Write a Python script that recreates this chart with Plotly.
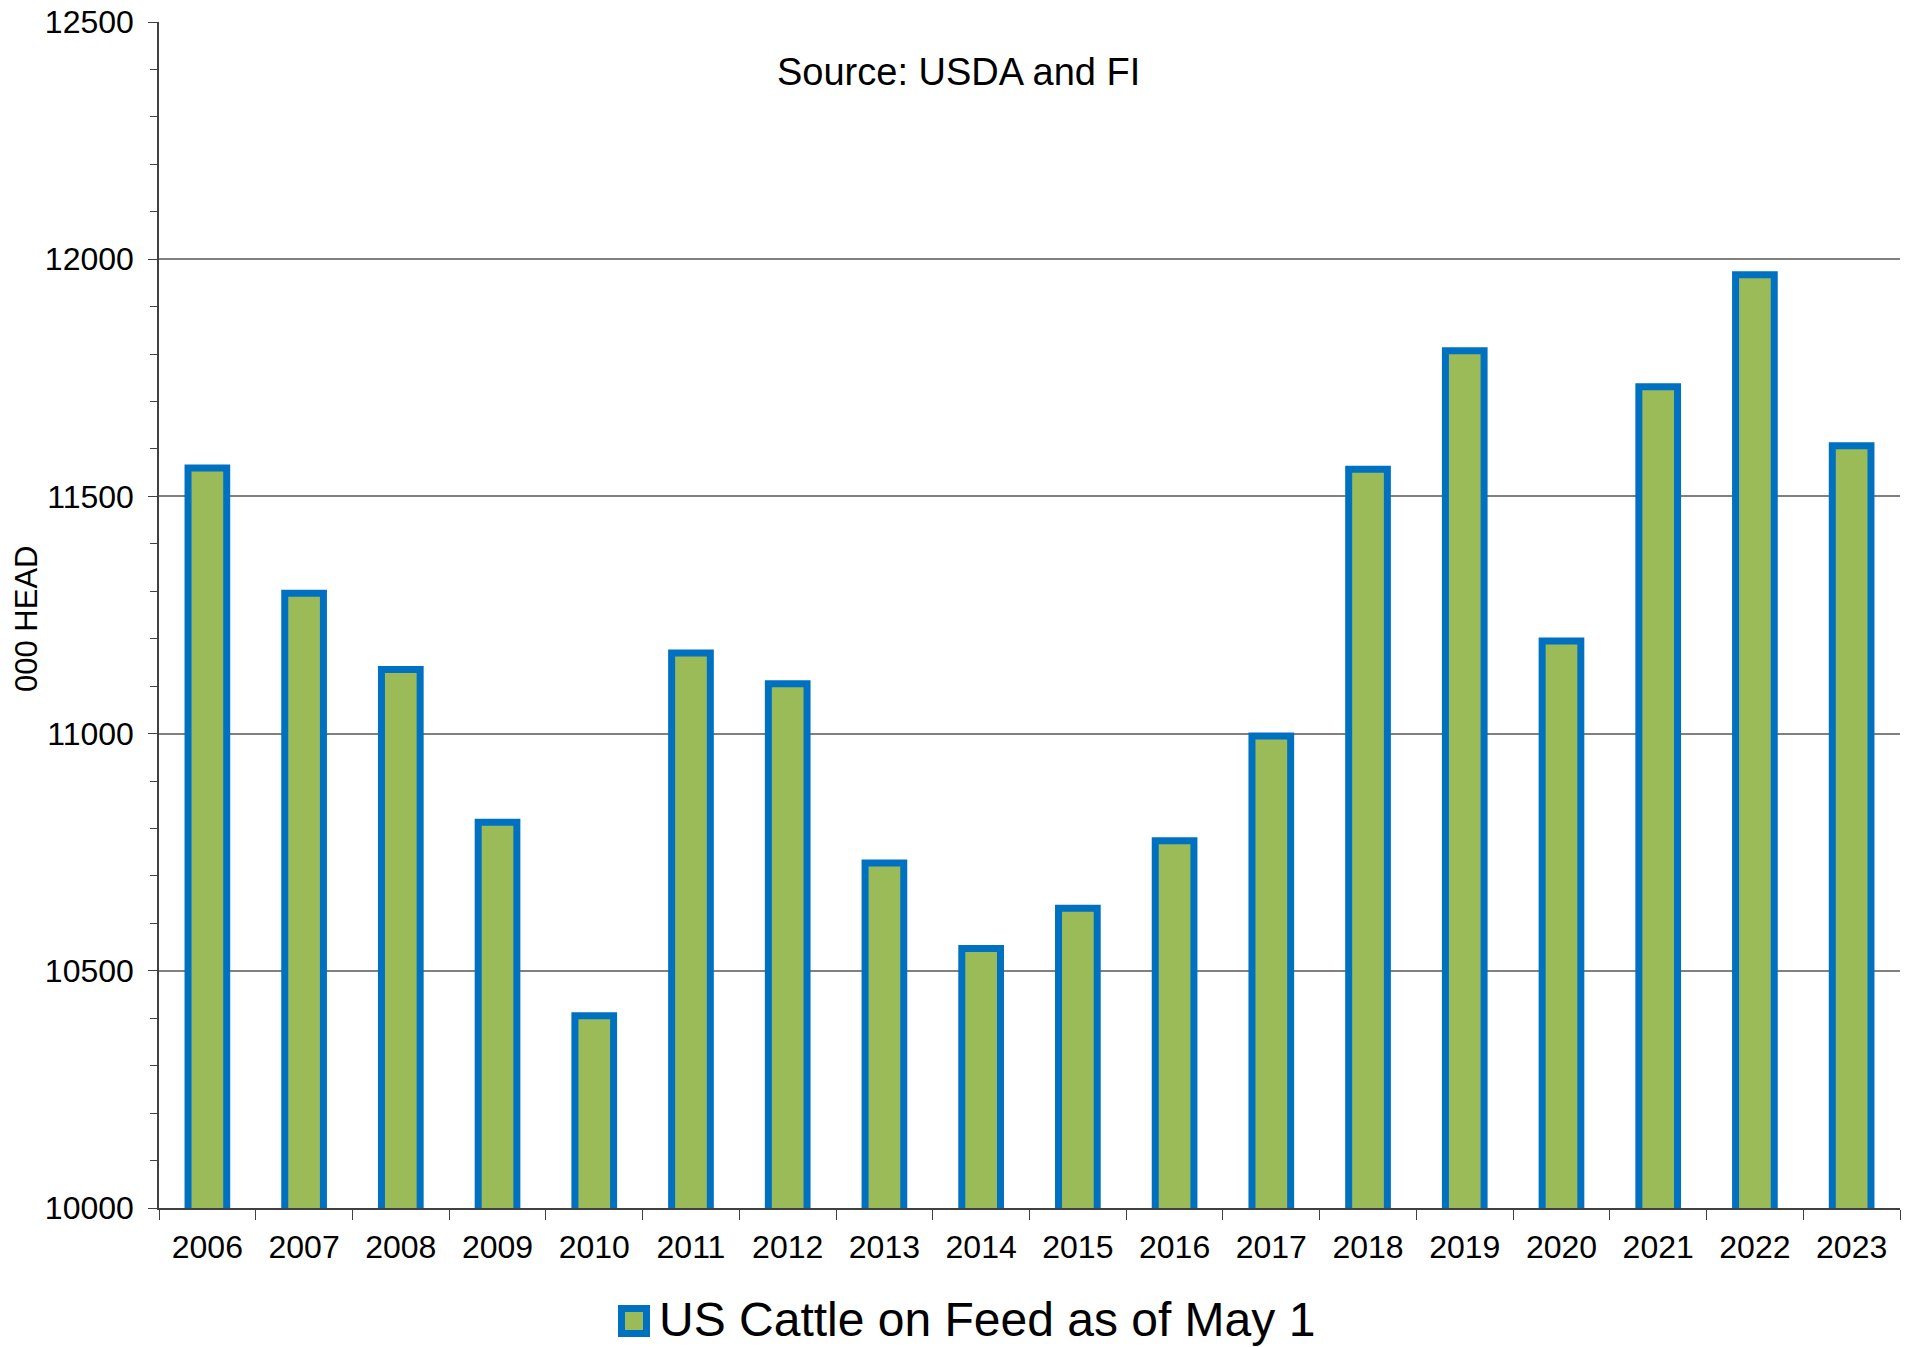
import plotly.graph_objects as go

# US cattle on feed as of May 1, thousand head
years = ["2006", "2007", "2008", "2009", "2010", "2011", "2012", "2013", "2014",
         "2015", "2016", "2017", "2018", "2019", "2020", "2021", "2022", "2023"]
cattle_on_feed = [11560, 11296, 11135, 10813, 10405, 11170, 11105, 10727, 10547,
                  10632, 10774, 10995, 11557, 11807, 11195, 11731, 11967, 11607]

series_name = "US Cattle on Feed as of May 1"
source_text = "Source: USDA and FI"
y_title = "000 HEAD"
y_ticks = [10000, 10500, 11000, 11500, 12000, 12500]

FILL = "#9BBB59"
EDGE = "#0070C0"
FONT = "Liberation Sans, Arial, Helvetica, sans-serif"

W, H = 1917, 1347
ML, MR, MT, MB = 159, 17, 22, 139
PW, PH = W - ML - MR, H - MT - MB


def px_to_paper(x, y):
    return (x - ML) / PW, (H - MB - y) / PH


fig = go.Figure()
fig.add_trace(go.Bar(
    x=years,
    y=cattle_on_feed,
    base=0,
    width=0.4,
    marker=dict(color=FILL, line=dict(color=EDGE, width=7)),
    name=series_name,
    showlegend=False,
))

fig.update_layout(
    width=W, height=H,
    margin=dict(l=ML, r=MR, t=MT, b=MB, autoexpand=False),
    paper_bgcolor="white", plot_bgcolor="white",
    font=dict(family=FONT, color="black", size=32),
    bargap=0.6,
)

fig.update_xaxes(
    type="category",
    automargin=False,
    showline=True, linecolor="#404040", linewidth=1.5,
    ticks="outside", tickson="boundaries", ticklen=10, tickwidth=1.2, tickcolor="#404040",
    ticklabelstandoff=10,
    tickfont=dict(size=32),
    showgrid=False,
    mirror=False,
)

fig.update_yaxes(
    range=[10000, 12500],
    automargin=False,
    tickvals=y_ticks,
    ticktext=[str(v) for v in y_ticks],
    showline=True, linecolor="#404040", linewidth=1.5,
    ticks="outside", ticklen=9, tickwidth=1.2, tickcolor="#404040",
    ticklabelstandoff=8,
    minor=dict(dtick=100, ticks="outside", ticklen=7, tickwidth=1.2,
               tickcolor="#404040", showgrid=False),
    showgrid=True, gridcolor="#808080", gridwidth=1.5,
    zeroline=False,
    tickfont=dict(size=32),
)

# Source note near top of the plot
sx, sy = px_to_paper(958, 72)
fig.add_annotation(x=sx, y=sy, xref="paper", yref="paper", text=source_text,
                   showarrow=False, xanchor="center", yanchor="middle",
                   font=dict(size=38, family=FONT, color="black"))

# Vertical axis title
tx, ty = px_to_paper(27, 619)
fig.add_annotation(x=tx, y=ty, xref="paper", yref="paper", text=y_title,
                   textangle=-90, showarrow=False, xanchor="center", yanchor="middle",
                   font=dict(size=31, family=FONT, color="black"))

# Legend: swatch and label below the axis
x0, y0 = px_to_paper(621.5, 1308.5)
x1, y1 = px_to_paper(646.5, 1333.5)
fig.add_shape(type="rect", xref="paper", yref="paper", x0=x0, y0=y1, x1=x1, y1=y0,
              fillcolor=FILL, line=dict(color=EDGE, width=7), layer="above")
lx, ly = px_to_paper(657, 1320)
fig.add_annotation(x=lx, y=ly, xref="paper", yref="paper", text=series_name,
                   showarrow=False, xanchor="left", yanchor="middle",
                   font=dict(size=48, family=FONT, color="black"))

fig.write_html("out.html")
